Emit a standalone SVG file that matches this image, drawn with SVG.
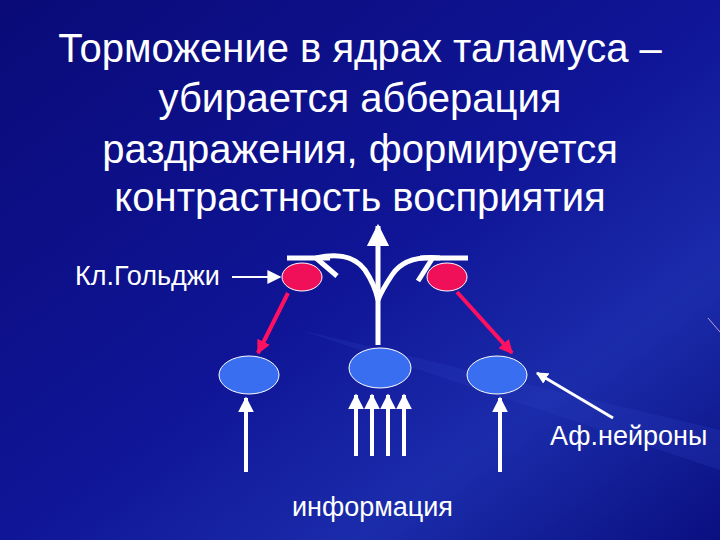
<svg xmlns="http://www.w3.org/2000/svg" width="720" height="540" viewBox="0 0 720 540">
<defs>
<linearGradient id="bg" x1="0" y1="0" x2="1" y2="1">
<stop offset="0" stop-color="#0a0a78"/><stop offset="0.5" stop-color="#0f1596"/><stop offset="0.75" stop-color="#1b2cab"/><stop offset="1" stop-color="#0a0f80"/>
</linearGradient>
<marker id="wa" viewBox="0 0 10 10" refX="9" refY="5" markerWidth="4" markerHeight="4" orient="auto"><path d="M0,0L10,5L0,10z" fill="#fff"/></marker>
<marker id="ra" viewBox="0 0 10 10" refX="9" refY="5" markerWidth="3.5" markerHeight="3.5" orient="auto"><path d="M0,0L10,5L0,10z" fill="#ff1060"/></marker>
<marker id="ta" viewBox="0 0 10 10" refX="9" refY="5" markerWidth="4.5" markerHeight="4.5" orient="auto"><path d="M0,0L10,5L0,10z" fill="#fff"/></marker>
<marker id="ga" viewBox="0 0 10 10" refX="9" refY="5" markerWidth="7" markerHeight="7" orient="auto"><path d="M0,0L10,5L0,10z" fill="#fff"/></marker>
</defs>
<style>
.t{font-family:"Liberation Sans",Arial,sans-serif;fill:#fff}
.red{fill:#f0105a;stroke:#fff;stroke-width:1}
.blue{fill:#3a6ef0;stroke:#fff;stroke-width:1}
.w{stroke:#fff;fill:none}
</style>
<rect width="720" height="540" fill="url(#bg)"/>
<path d="M300,330 L720,470 L720,430 Z" fill="#2a40c0" opacity="0.25"/>
<line x1="708" y1="318" x2="720" y2="332" stroke="#c0a0e0" stroke-width="1"/>
<g class="t" font-size="40" text-anchor="middle">
<text x="360" y="62">Торможение в ядрах таламуса –</text>
<text x="360" y="112">убирается абберация</text>
<text x="360" y="163">раздражения, формируется</text>
<text x="360" y="211">контрастность восприятия</text>
</g>
<g id="connectors">
<line class="w" x1="287" y1="258" x2="330" y2="258" stroke-width="5"/>
<line class="w" x1="420" y1="258" x2="468" y2="258" stroke-width="5"/>
<path class="w" d="M316,258 Q350,250 365,270 Q375,285 378,300" stroke-width="5"/>
<path class="w" d="M440,258 Q405,255 392,275 Q382,290 378,300" stroke-width="5"/>
<line class="w" x1="316" y1="258" x2="337" y2="276" stroke-width="5"/>
<line class="w" x1="432" y1="259" x2="418" y2="281" stroke-width="5"/>
<line class="w" x1="378" y1="345" x2="378" y2="226" stroke-width="5" marker-end="url(#ta)"/>
<line x1="288" y1="293" x2="258" y2="353" stroke="#ff1060" stroke-width="4" marker-end="url(#ra)"/>
<line x1="457" y1="292" x2="512" y2="353" stroke="#ff1060" stroke-width="4" marker-end="url(#ra)"/>
<line class="w" x1="232" y1="277" x2="280" y2="277" stroke-width="2" marker-end="url(#ga)"/>
<line class="w" x1="613" y1="418" x2="537" y2="373" stroke-width="3" marker-end="url(#wa)"/>
<g class="w" stroke-width="4" marker-end="url(#wa)">
<line x1="246" y1="472" x2="246" y2="398"/>
<line x1="356" y1="456" x2="356" y2="395"/>
<line x1="372" y1="456" x2="372" y2="395"/>
<line x1="388" y1="456" x2="388" y2="395"/>
<line x1="404" y1="456" x2="404" y2="395"/>
<line x1="500" y1="472" x2="500" y2="398"/>
</g>
</g>
<g id="golgi-left"><ellipse class="red" cx="302" cy="277" rx="20" ry="14"/></g>
<g id="golgi-right"><ellipse class="red" cx="447" cy="277" rx="20" ry="14"/></g>
<g id="aff-left"><ellipse class="blue" cx="249" cy="375" rx="30" ry="19"/></g>
<g id="aff-center"><ellipse class="blue" cx="380" cy="368" rx="31" ry="20"/></g>
<g id="aff-right"><ellipse class="blue" cx="497" cy="375" rx="30" ry="19"/></g>
<g class="t" font-size="27">
<text x="75" y="285">Кл.Гольджи</text>
<text x="550" y="445">Аф.нейроны</text>
<text x="292" y="516">информация</text>
</g>
</svg>
